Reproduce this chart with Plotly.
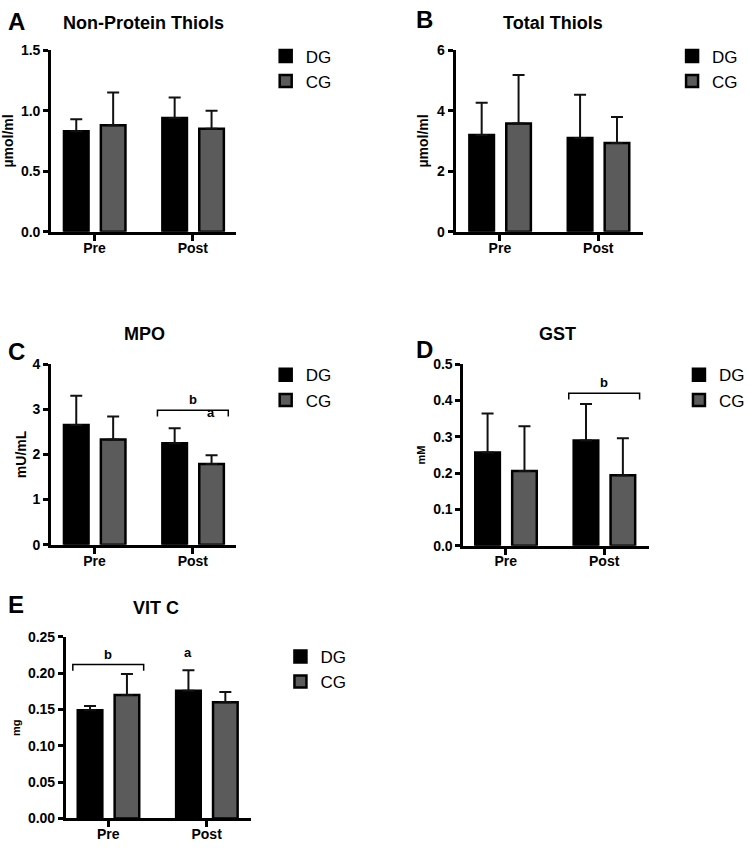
import plotly.graph_objects as go

W, H = 750, 850

categories = ["Pre", "Post"]
groups = ["DG", "CG"]

# Panel data: means and upper error-bar ends
titles = ["Non-Protein Thiols", "Total Thiols", "MPO", "GST", "VIT C"]
letters = ["A", "B", "C", "D", "E"]
ytitles = ["µmol/ml", "µmol/ml", "mU/mL", "mM", "mg"]

npt_dg = [0.83, 0.94]
npt_cg = [0.88, 0.85]
npt_dg_err = [0.10, 0.17]
npt_cg_err = [0.27, 0.15]

tt_dg = [3.20, 3.10]
tt_cg = [3.58, 2.93]
tt_dg_err = [1.06, 1.43]
tt_cg_err = [1.60, 0.86]

mpo_dg = [2.65, 2.25]
mpo_cg = [2.33, 1.79]
mpo_dg_err = [0.65, 0.33]
mpo_cg_err = [0.51, 0.19]

gst_dg = [0.257, 0.290]
gst_cg = [0.206, 0.194]
gst_dg_err = [0.107, 0.100]
gst_cg_err = [0.123, 0.102]

vitc_dg = [0.149, 0.176]
vitc_cg = [0.170, 0.160]
vitc_dg_err = [0.006, 0.028]
vitc_cg_err = [0.029, 0.014]

y_max = [1.5, 6, 4, 0.5, 0.25]
y_dtick = [0.5, 2, 1, 0.1, 0.05]
y_fmt = [".1f", "d", "d", ".1f", ".2f"]

# significance brackets: (panel index, category, y top, label)
brackets = [(2, "Post", 2.98, "b"), (3, "Post", 0.42, "b"), (4, "Pre", 0.212, "b")]
# single-letter marks: (panel index, category, x shift, y, label)
letters_sig = [(2, "Post", 0.18, 2.72, "a"), (4, "Post", -0.19, 0.215, "a")]

means = [(npt_dg, npt_cg), (tt_dg, tt_cg), (mpo_dg, mpo_cg), (gst_dg, gst_cg), (vitc_dg, vitc_cg)]
errs = [(npt_dg_err, npt_cg_err), (tt_dg_err, tt_cg_err), (mpo_dg_err, mpo_cg_err),
        (gst_dg_err, gst_cg_err), (vitc_dg_err, vitc_cg_err)]

# layout geometry in pixels: x-left, x-right, y-top, y-bottom, x-range
geom = [
    (52, 240, 43, 228, (-0.44, 1.44)),
    (463, 653, 43, 228, (-0.45, 1.45)),
    (52, 240, 363, 547, (-0.44, 1.44)),
    (471, 660, 363, 548, (-0.43, 1.46)),
    (67, 255, 641, 826, (-0.43, 1.45)),
]
legend_pos = [(270, 31), (683, 31), (270, 356), (690, 356), (285, 643)]
title_pos = [(146, 15), (562, 15), (147, 332), (567, 332), (159, 612)]
letter_pos = [(6, 14), (421, 12), (6, 350), (421, 348), (6, 608)]
ytitle_size = [14, 14, 14, 11, 11]
ytitle_standoff = [6, 6, 3, 6, 6]

colors = {"DG": "#000000", "CG": "#5b5b5b"}
offsets = {"DG": -0.31, "CG": 0.065}
BW = 0.25
FONT = "Liberation Sans, Arial, sans-serif"

fig = go.Figure()
annotations = []
shapes = []

for i in range(5):
    sfx = "" if i == 0 else str(i + 1)
    xa, ya = "x" + sfx, "y" + sfx
    leg = "legend" + sfx
    for g, vals, ev in zip(groups, means[i], errs[i]):
        fig.add_trace(go.Bar(
            x=categories, y=vals, name=g, xaxis=xa, yaxis=ya, legend=leg,
            offset=offsets[g], width=BW,
            marker=dict(color=colors[g], line=dict(color="black", width=2.5)),
            error_y=dict(type="data", symmetric=False, array=ev, arrayminus=[0, 0],
                         color="#111111", thickness=2, width=6),
        ))
    x0, x1, y0, y1, xr = geom[i]
    fig.layout["xaxis" + sfx] = dict(
        domain=[x0 / W, x1 / W], anchor=ya, range=list(xr), type="category",
        showline=True, linecolor="black", linewidth=3, ticks="outside", ticklen=6,
        tickwidth=3, tickcolor="black", showgrid=False, zeroline=False, fixedrange=True,
        ticklabelstandoff=-5,
        tickfont=dict(family=FONT, size=14, color="black", weight="bold"),
    )
    fig.layout["yaxis" + sfx] = dict(
        domain=[1 - y1 / H, 1 - y0 / H], anchor=xa, range=[0, y_max[i]], dtick=y_dtick[i],
        tick0=0, tickformat=y_fmt[i],
        showline=True, linecolor="black", linewidth=3, ticks="outside", ticklen=5,
        tickwidth=3, tickcolor="black", showgrid=False, zeroline=False,
        tickfont=dict(family=FONT, size=14, color="black", weight="bold"),
        title=dict(text=ytitles[i], standoff=ytitle_standoff[i],
                   font=dict(family=FONT, size=ytitle_size[i], color="black", weight="bold")),
    )
    lx, ly = legend_pos[i]
    fig.layout[leg] = dict(
        x=lx / W, y=1 - ly / H, xanchor="left", yanchor="top", bgcolor="rgba(0,0,0,0)",
        font=dict(family=FONT, size=17, color="black"), itemwidth=30, tracegroupgap=0,
    )
    tx, ty = title_pos[i]
    annotations.append(dict(text="<b>" + titles[i] + "</b>", x=tx / W, y=1 - ty / H,
                            xref="paper", yref="paper", showarrow=False,
                            xanchor="center", yanchor="middle",
                            font=dict(family=FONT, size=18, color="black")))
    lx2, ly2 = letter_pos[i]
    annotations.append(dict(text="<b>" + letters[i] + "</b>", x=lx2 / W, y=1 - ly2 / H,
                            xref="paper", yref="paper", showarrow=False,
                            xanchor="left", yanchor="middle",
                            font=dict(family=FONT, size=24, color="black")))

for (pi, cat, ytop, lab) in brackets:
    sfx = "" if pi == 0 else str(pi + 1)
    c = categories.index(cat)
    leg_drop = y_max[pi] * 0.035
    xl, xr_ = c - 0.36, c + 0.36
    shapes.append(dict(type="path", xref="x" + sfx, yref="y" + sfx,
                       path=f"M {xl},{ytop - leg_drop} L {xl},{ytop} L {xr_},{ytop} L {xr_},{ytop - leg_drop}",
                       line=dict(color="black", width=1.5)))
    annotations.append(dict(text="<b>" + lab + "</b>", x=c, y=ytop, xref="x" + sfx, yref="y" + sfx,
                            showarrow=False, yanchor="bottom", yshift=1,
                            font=dict(family=FONT, size=13, color="black")))

for (pi, cat, dx, yv, lab) in letters_sig:
    sfx = "" if pi == 0 else str(pi + 1)
    c = categories.index(cat)
    annotations.append(dict(text="<b>" + lab + "</b>", x=c + dx, y=yv, xref="x" + sfx, yref="y" + sfx,
                            showarrow=False, yanchor="bottom",
                            font=dict(family=FONT, size=13, color="black")))

fig.update_layout(
    width=W, height=H, margin=dict(l=0, r=0, t=0, b=0),
    paper_bgcolor="white", plot_bgcolor="white", barmode="overlay",
    annotations=annotations, shapes=shapes, showlegend=True,
    font=dict(family=FONT, color="black"),
)

fig.write_html("out.html")
